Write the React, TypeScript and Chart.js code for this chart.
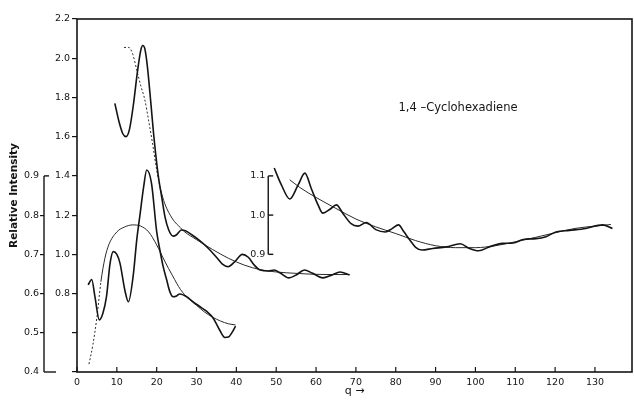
import React, { useEffect, useRef } from 'react';
import { Chart, registerables } from 'chart.js';

Chart.register(...registerables);

// ---- tick labels / text ----
const xTicks = [0, 10, 20, 30, 40, 50, 60, 70, 80, 90, 100, 110, 120, 130];
const innerTicks = [0.4, 0.6, 0.8, 1.0, 1.2, 1.4, 1.6, 1.8, 2.0, 2.2];
const outerTicks = [0.4, 0.5, 0.6, 0.7, 0.8, 0.9];
const insetTicks = [0.9, 1.0, 1.1];
const insetAxisQ = 48;
const chartLabel = '1,4 \u2013Cyclohexadiene';
const chartLabelQ = 80.7;
const chartLabelY = 1.746;
const yTitle = 'Relative Intensity';
const xTitle = 'q \u2192';

// ---- curve A (upper, inner scale 0.4-2.2) ----
const qAWavy = [9.5, 10.5, 11.5, 12.3, 13.2, 14.2, 15.1, 16, 16.5, 17, 17.6, 18.5, 19.2, 20.4, 21.2, 22.1, 23, 24.1, 25, 26.2, 27.2, 28.8, 30.8, 33, 35, 36.5, 37.9, 39.5, 41.5, 43, 44.5, 46, 48, 49.5, 51, 53.2, 55, 57.1, 59, 61.7, 64, 66, 68.4];
const aWavy = [1.77, 1.68, 1.615, 1.6, 1.64, 1.77, 1.92, 2.04, 2.065, 2.05, 1.97, 1.78, 1.62, 1.4, 1.3, 1.19, 1.125, 1.093, 1.1, 1.124, 1.12, 1.1, 1.07, 1.03, 0.985, 0.95, 0.937, 0.96, 1.0, 0.985, 0.945, 0.92, 0.915, 0.92, 0.905, 0.88, 0.895, 0.92, 0.905, 0.88, 0.895, 0.91, 0.895];
const qASmooth = [11.8, 13, 14, 15, 16, 17, 18, 19, 20, 21, 22, 24, 26, 27, 30, 34, 38, 42, 46, 50, 55, 60, 65, 68.4];
const aSmooth = [2.055, 2.055, 2.02, 1.94, 1.86, 1.79, 1.68, 1.56, 1.43, 1.33, 1.26, 1.18, 1.135, 1.115, 1.075, 1.025, 0.98, 0.945, 0.922, 0.91, 0.903, 0.898, 0.897, 0.897];

// ---- curve B (lower left, outer scale 0.4-0.9) ----
const qBWavy = [2.8, 3.7, 4.5, 5.6, 6.5, 7.4, 8.3, 9.1, 10, 10.8, 12, 12.9, 14.1, 15, 15.8, 16.7, 17.5, 18.7, 20, 20.8, 21.6, 22.5, 23.3, 24.1, 25, 25.8, 27.5, 29, 30.8, 32.5, 34.2, 35.8, 37.1, 38, 38.8, 39.8];
const bWavy = [0.622, 0.636, 0.592, 0.533, 0.55, 0.592, 0.677, 0.707, 0.7, 0.677, 0.609, 0.579, 0.645, 0.737, 0.8, 0.87, 0.915, 0.881, 0.758, 0.711, 0.67, 0.635, 0.605, 0.592, 0.594, 0.599, 0.592, 0.58, 0.567, 0.555, 0.537, 0.507, 0.488, 0.489, 0.499, 0.517];
const qBSmooth = [3, 4, 5, 6, 7, 8, 10, 12, 14, 16, 18, 20, 22, 24, 26, 28, 30, 32, 34, 36, 38, 39.8];
const bSmooth = [0.42, 0.47, 0.54, 0.63, 0.69, 0.725, 0.757, 0.77, 0.775, 0.772, 0.757, 0.724, 0.683, 0.645, 0.61, 0.587, 0.57, 0.553, 0.54, 0.53, 0.523, 0.52];

// ---- curve C (inset, inset scale 0.9-1.1) ----
const qCWavy = [49.5, 51.3, 53.4, 55.5, 57.2, 58.8, 60.5, 61.7, 63.5, 65.1, 66.7, 68.8, 70.5, 72.6, 75, 77.4, 79, 80.7, 82, 83.5, 85, 86.6, 89.3, 92.7, 96.2, 98.5, 100.8, 103.5, 106.8, 109.5, 112, 115.2, 117.7, 120.2, 123.6, 127.7, 131.9, 134.4];
const cWavy = [1.12, 1.077, 1.041, 1.077, 1.107, 1.068, 1.026, 1.005, 1.015, 1.026, 1.005, 0.978, 0.972, 0.981, 0.963, 0.957, 0.965, 0.975, 0.958, 0.937, 0.918, 0.911, 0.915, 0.919, 0.927, 0.915, 0.909, 0.919, 0.928, 0.929, 0.938, 0.94, 0.945, 0.957, 0.961, 0.966, 0.975, 0.966];
const qCSmooth = [53.4, 56, 60, 65, 70, 75, 80, 85, 90, 95, 100, 105, 110, 115, 120, 125, 130, 134];
const cSmooth = [1.09, 1.07, 1.045, 1.017, 0.99, 0.97, 0.953, 0.935, 0.922, 0.917, 0.917, 0.922, 0.932, 0.943, 0.955, 0.966, 0.972, 0.976];

const INK = '#141414';
const FONT = 'DejaVu Sans';

const pts = (qs: number[], vs: number[]) => qs.map((q, i) => ({ x: q, y: vs[i] }));

const wavyStyle = {
  borderColor: INK,
  borderWidth: 1.6,
  pointRadius: 0,
  fill: false,
  cubicInterpolationMode: 'monotone' as const,
};
const smoothStyle = {
  borderColor: '#2a2a2a',
  borderWidth: 1,
  pointRadius: 0,
  fill: false,
  cubicInterpolationMode: 'monotone' as const,
};

const decorPlugin = {
  id: 'decor',
  afterDraw(chart: any) {
    const { ctx, chartArea: a, scales } = chart;
    const x = scales.x;
    const yi = scales.yInner;
    const yo = scales.yOuter;
    const ys = scales.yInset;
    const line = (x1: number, y1: number, x2: number, y2: number) => {
      ctx.beginPath();
      ctx.moveTo(x1, y1);
      ctx.lineTo(x2, y2);
      ctx.stroke();
    };
    ctx.save();
    ctx.strokeStyle = INK;
    ctx.fillStyle = INK;
    // frame
    ctx.lineWidth = 1.6;
    ctx.strokeRect(a.left, a.top, a.right - a.left, a.bottom - a.top);
    // inward x ticks
    ctx.lineWidth = 1.2;
    for (const v of xTicks) {
      const px = x.getPixelForValue(v);
      line(px, a.bottom, px, a.bottom - 5);
    }
    // outer axis partial line
    const ox = yo.right;
    const o4 = yo.getPixelForValue(outerTicks[0]);
    const o9 = yo.getPixelForValue(outerTicks[outerTicks.length - 1]);
    ctx.lineWidth = 1.4;
    line(ox, o4, ox, o9);
    line(ox, o4, ox + 12, o4);
    line(ox, o9, ox + 5, o9);
    // inset axis
    const ix = x.getPixelForValue(insetAxisQ);
    const i0 = ys.getPixelForValue(insetTicks[0]);
    const i1 = ys.getPixelForValue(insetTicks[insetTicks.length - 1]);
    line(ix, i0, ix, i1);
    ctx.font = `9.5px "${FONT}"`;
    ctx.textAlign = 'right';
    ctx.textBaseline = 'middle';
    for (const v of insetTicks) {
      const py = ys.getPixelForValue(v);
      line(ix, py, ix + 5, py);
      ctx.fillText(v.toFixed(1), ix - 3, py);
    }
    // annotation
    ctx.font = `11.5px "${FONT}"`;
    ctx.textAlign = 'left';
    ctx.fillText(chartLabel, x.getPixelForValue(chartLabelQ), yi.getPixelForValue(chartLabelY));
    ctx.restore();
  },
};

export default function App() {
  const ref = useRef<HTMLCanvasElement | null>(null);
  useEffect(() => {
    if (!ref.current) return;
    const tickFont = { family: FONT, size: 9.5 };
    const chart = new Chart(ref.current, {
      type: 'line',
      data: {
        datasets: [
          { ...wavyStyle, data: pts(qAWavy, aWavy), yAxisID: 'yInner' },
          {
            ...smoothStyle,
            data: pts(qASmooth, aSmooth),
            yAxisID: 'yInner',
            segment: { borderDash: (c: any) => (c.p1.parsed.x <= 21 ? [2, 2] : undefined) },
          },
          { ...wavyStyle, data: pts(qBWavy, bWavy), yAxisID: 'yOuter' },
          {
            ...smoothStyle,
            data: pts(qBSmooth, bSmooth),
            yAxisID: 'yOuter',
            segment: { borderDash: (c: any) => (c.p1.parsed.x <= 6 ? [2, 2] : undefined) },
          },
          { ...wavyStyle, data: pts(qCWavy, cWavy), yAxisID: 'yInset' },
          { ...smoothStyle, data: pts(qCSmooth, cSmooth), yAxisID: 'yInset' },
        ],
      },
      options: {
        animation: false,
        responsive: false,
        maintainAspectRatio: false,
        layout: { padding: { left: 0, right: 2, top: 19, bottom: 0 } },
        plugins: { legend: { display: false }, tooltip: { enabled: false } },
        scales: {
          x: {
            type: 'linear',
            min: 0,
            max: 139.3,
            afterBuildTicks: (s: any) => {
              s.ticks = xTicks.map((v) => ({ value: v }));
            },
            afterFit: (s: any) => {
              s.height = 32;
            },
            grid: { display: false, drawTicks: false },
            border: { display: false },
            ticks: { font: tickFont, color: INK, padding: 5, maxRotation: 0, autoSkip: false },
            title: {
              display: true,
              text: xTitle,
              color: INK,
              font: { family: FONT, size: 11 },
              padding: { top: 0, bottom: 6 },
            },
          },
          yInner: {
            type: 'linear',
            position: 'left',
            weight: 0,
            min: 0.4,
            max: 2.2,
            afterBuildTicks: (s: any) => {
              s.ticks = innerTicks.map((v) => ({ value: v }));
            },
            afterFit: (s: any) => {
              s.width = 33;
            },
            grid: { display: true, drawOnChartArea: false, drawTicks: true, tickLength: 5, color: INK, lineWidth: 1.2 },
            border: { display: false },
            ticks: {
              font: tickFont,
              color: INK,
              padding: 2,
              autoSkip: false,
              callback: (v: any) => (Number(v) >= 0.75 ? Number(v).toFixed(1) : ''),
            },
          },
          yOuter: {
            type: 'linear',
            position: 'left',
            weight: 1,
            min: 0.4,
            max: 1.3,
            afterBuildTicks: (s: any) => {
              s.ticks = outerTicks.map((v) => ({ value: v }));
            },
            afterFit: (s: any) => {
              s.width = 44;
            },
            grid: {
              display: true,
              drawOnChartArea: false,
              drawTicks: true,
              tickLength: 4,
              lineWidth: 1.2,
              color: (c: any) =>
                c.tick && (c.tick.value === outerTicks[0] || c.tick.value === outerTicks[outerTicks.length - 1])
                  ? 'rgba(0,0,0,0)'
                  : INK,
            },
            border: { display: false },
            ticks: {
              font: tickFont,
              color: INK,
              padding: 1,
              autoSkip: false,
              callback: (v: any) => Number(v).toFixed(1),
            },
            title: {
              display: true,
              text: yTitle,
              color: INK,
              font: { family: FONT, size: 10.5, weight: 'bold' },
              padding: { top: 8, bottom: 0 },
            },
          },
          yInset: {
            type: 'linear',
            display: false,
            min: 0.6,
            max: 1.5,
          },
        },
      },
      plugins: [decorPlugin],
    } as any);
    return () => chart.destroy();
  }, []);

  return (
    <div style={{ position: 'fixed', left: 0, top: 0, width: 634, height: 404, background: '#fff' }}>
      <canvas ref={ref} width={634} height={404} style={{ width: 634, height: 404, display: 'block' }} />
    </div>
  );
}
